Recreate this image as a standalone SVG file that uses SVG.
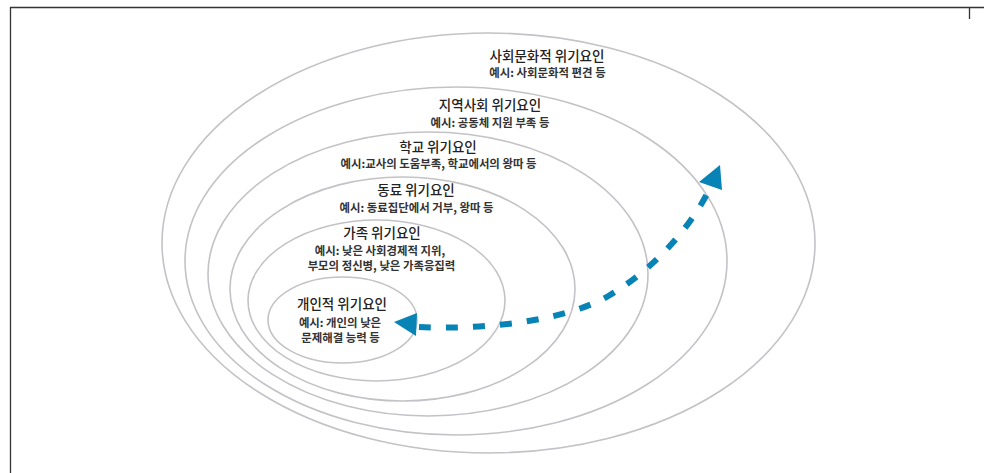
<svg xmlns="http://www.w3.org/2000/svg" width="984" height="473" viewBox="0 0 984 473">
<style>
.ring{fill:none;stroke:#c3c3c7;stroke-width:1.6}
.frame{fill:none;stroke:#333;stroke-width:1.3}
text{font-family:"Noto Sans CJK KR","Noto Sans",sans-serif;text-anchor:middle}
.t{font-size:13.5px;fill:#222;font-weight:500}
.s{font-size:11.4px;fill:#333;font-weight:700}
.flow{fill:none;stroke:#0883b5;stroke-width:6;stroke-dasharray:12 15}
.head{fill:#0883b5}
</style>
<rect width="984" height="473" fill="#fff"/>
<path class="frame" d="M10.5 473 V7.5 H984 M969.5 7.5 V19"/>
<g id="sociocultural">
<ellipse class="ring" cx="488.5" cy="243" rx="326.5" ry="210"/>
<text class="t" x="547" y="60.5">사회문화적 위기요인</text>
<text class="s" x="547.5" y="76.5">예시: 사회문화적 편견 등</text>
</g>
<g id="community">
<ellipse class="ring" cx="456" cy="261" rx="271" ry="174"/>
<text class="t" x="490" y="110">지역사회 위기요인</text>
<text class="s" x="490" y="126.5">예시: 공동체 지원 부족 등</text>
</g>
<g id="school">
<ellipse class="ring" cx="428" cy="274" rx="220" ry="142"/>
<text class="t" x="438" y="151.5">학교 위기요인</text>
<text class="s" x="438.5" y="167.5">예시:교사의 도움부족, 학교에서의 왕따 등</text>
</g>
<g id="peer">
<ellipse class="ring" cx="402.5" cy="289" rx="172.5" ry="112"/>
<text class="t" x="416" y="194.5">동료 위기요인</text>
<text class="s" x="416.5" y="211.5">예시: 동료집단에서 거부, 왕따 등</text>
</g>
<g id="family">
<ellipse class="ring" cx="376.5" cy="300.5" rx="128.5" ry="80.5"/>
<text class="t" x="382" y="237.5">가족 위기요인</text>
<text class="s" x="380" y="254.5">예시: 낮은 사회경제적 지위,</text>
<text class="s" x="381.5" y="269.5">부모의 정신병, 낮은 가족응집력</text>
</g>
<g id="individual">
<ellipse class="ring" cx="342.5" cy="320" rx="74.5" ry="43"/>
<text class="t" x="342" y="308.5">개인적 위기요인</text>
<text class="s" x="340" y="326.5">예시: 개인의 낮은</text>
<text class="s" x="340.5" y="341.5">문제해결 능력 등</text>
</g>
<g id="connectors">
<path class="flow" d="M419 327 C480 330 565 322 610 295 C655 268 690 228 709 190"/>
<polygon class="head" points="394,322 417,313 416,336"/>
<polygon class="head" points="720,165 699,182 722,190"/>
</g>
</svg>
